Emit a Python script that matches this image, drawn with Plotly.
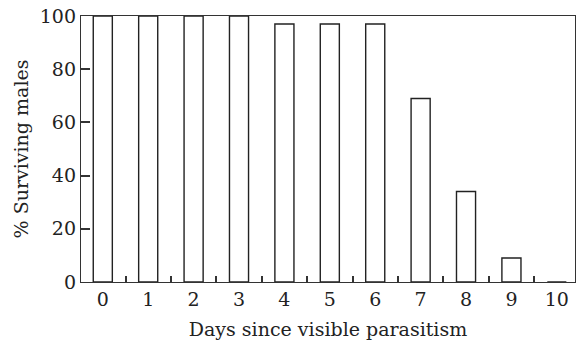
import plotly.graph_objects as go

days = [0, 1, 2, 3, 4, 5, 6, 7, 8, 9, 10]
surviving = [100, 100, 100, 100, 97, 97, 97, 69, 34, 9, 0]
y_ticks = [0, 20, 40, 60, 80, 100]
boundary_ticks = [d + 0.5 for d in days[:-1]]

FONT = "DejaVu Serif"
INK = "#222"

fig = go.Figure(go.Bar(
    x=days, y=surviving, width=0.42,
    marker=dict(color="white", line=dict(color=INK, width=1.4)),
))
# invisible trace on overlay axis to carry the boundary ticks
fig.add_trace(go.Scatter(x=[days[0]], y=[0], xaxis="x2", mode="markers",
                         marker=dict(opacity=0), hoverinfo="skip", showlegend=False))

fig.update_layout(
    width=579, height=347,
    margin=dict(l=81, r=4, t=16, b=65),
    paper_bgcolor="white", plot_bgcolor="white",
    font=dict(family=FONT, size=16, color=INK),
    showlegend=False,
    xaxis=dict(
        range=[-0.48, 10.4], tickvals=days, ticktext=[str(d) for d in days],
        tickfont=dict(size=19),
        ticks="", showgrid=False, zeroline=False, automargin=False,
        showline=True, linecolor="#333", linewidth=1.4, mirror=True,
        title=dict(text="Days since visible parasitism", standoff=13),
    ),
    xaxis2=dict(
        overlaying="x", side="bottom", range=[-0.48, 10.4],
        tickvals=boundary_ticks, showticklabels=False,
        ticks="inside", ticklen=6, tickcolor="#333", tickwidth=1.5,
        showgrid=False, zeroline=False, showline=False, automargin=False,
    ),
    yaxis=dict(
        range=[0, 100], tickvals=y_ticks, tickfont=dict(size=19),
        ticklabeloverflow="allow",
        ticks="inside", ticklen=9, tickcolor="#333", tickwidth=1.5,
        showgrid=False, zeroline=False, automargin=False,
        showline=True, linecolor="#333", linewidth=1.4, mirror=True,
        title=dict(text="% Surviving males", standoff=6),
    ),
)

# remove the default page margin so the figure sits at the window's top-left
fig.write_html("out.html", config={"displayModeBar": False},
               post_script="document.body.style.margin='0';")
